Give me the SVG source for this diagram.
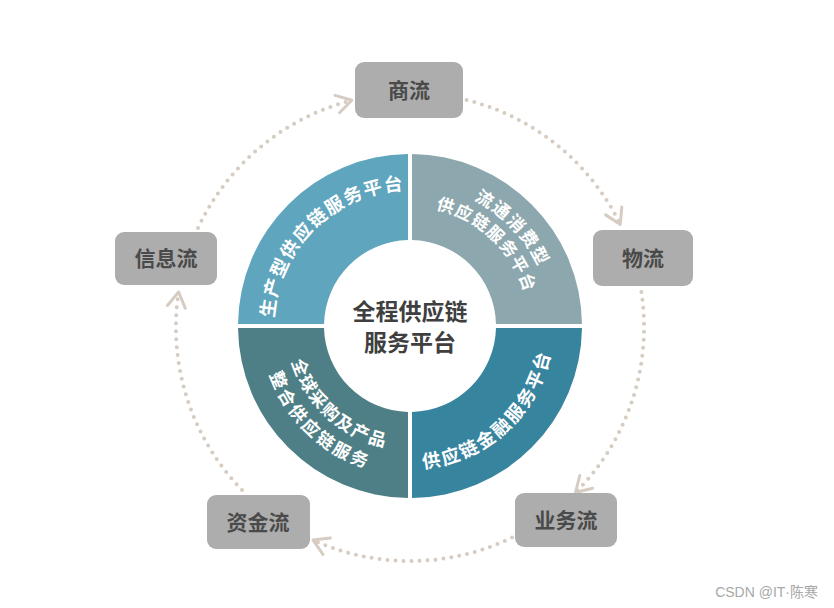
<svg xmlns="http://www.w3.org/2000/svg" xmlns:xlink="http://www.w3.org/1999/xlink" width="834" height="608" viewBox="0 0 834 608">
<style>
.box{fill:#adadad;}
.lbl{font-family:"Noto Sans CJK SC","Liberation Sans",sans-serif;font-weight:700;font-size:21px;fill:#4a4a4a;text-anchor:middle;}
.ctr{font-family:"Noto Sans CJK SC","Liberation Sans",sans-serif;font-weight:700;font-size:23px;fill:#3f3f3f;text-anchor:middle;}
.rt{font-family:"Noto Sans CJK SC","Liberation Sans",sans-serif;font-weight:700;fill:#ffffff;text-anchor:middle;}
.dot{fill:none;stroke:#d6ccc1;stroke-width:4;stroke-linecap:round;stroke-dasharray:0 8;marker-end:url(#chev);}
.wm{font-family:"Liberation Sans","Noto Sans CJK SC",sans-serif;font-size:14px;fill:#a8a8a8;text-anchor:end;}
</style>
<defs>
<marker id="chev" markerUnits="userSpaceOnUse" markerWidth="30" markerHeight="30" refX="0" refY="0" viewBox="-20 -15 30 30" orient="auto" overflow="visible">
<path d="M -15 -9 L 0 0 L -15 9" fill="none" stroke="#d6ccc1" stroke-width="3" stroke-linecap="round" stroke-linejoin="round"/>
</marker>
<path id="pTL" d="M 278.3 359.9 A 136 136 0 0 1 446.3 194.9"/>
<path id="pTRo" d="M 376.4 188.7 A 141.4 141.4 0 0 1 545.7 365.6"/>
<path id="pTRi" d="M 375.6 211.7 A 119.4 119.4 0 0 1 526.2 353.4"/>
<path id="pBR" d="M 366.6 462.3 A 143 143 0 0 0 549.7 295.4"/>
<path id="pBLi" d="M 289.2 299.6 A 123.6 123.6 0 0 0 447.5 443.8"/>
<path id="pBLo" d="M 265.6 290.8 A 148.6 148.6 0 0 0 451.7 468.6"/>
</defs>
<rect width="834" height="608" fill="#ffffff"/>

<g id="connectors">
<path class="dot" d="M 466.6 100 A 234 234 0 0 1 620.3 224.4"/>
<path class="dot" d="M 641.4 292 A 234 234 0 0 1 575.5 492.5"/>
<path class="dot" d="M 512 537.6 A 234 234 0 0 1 313 540"/>
<path class="dot" d="M 242 490 A 234 234 0 0 1 178.6 292"/>
<path class="dot" d="M 198 228 A 234 234 0 0 1 351.8 100.3"/>
</g>

<g id="ring-tl">
<path d="M 238.01 324 A 172 172 0 0 1 408 154.01 L 408 240.02 A 86 86 0 0 0 324.02 324 Z" fill="#5fa5be"/>
<text class="rt" font-size="18.5" letter-spacing="1.5"><textPath href="#pTL" startOffset="50%">生产型供应链服务平台</textPath></text>
</g>
<g id="ring-tr">
<path d="M 412 154.01 A 172 172 0 0 1 581.99 324 L 495.98 324 A 86 86 0 0 0 412 240.02 Z" fill="#8da7ae"/>
<text class="rt" font-size="17.5" letter-spacing="1.6"><textPath href="#pTRo" startOffset="50%">流通消费型</textPath></text>
<text class="rt" font-size="17" letter-spacing="1.3"><textPath href="#pTRi" startOffset="50%">供应链服务平台</textPath></text>
</g>
<g id="ring-br">
<path d="M 581.99 328 A 172 172 0 0 1 412 497.99 L 412 411.98 A 86 86 0 0 0 495.98 328 Z" fill="#37849f"/>
<text class="rt" font-size="18.5" letter-spacing="2"><textPath href="#pBR" startOffset="50%">供应链金融服务平台</textPath></text>
</g>
<g id="ring-bl">
<path d="M 408 497.99 A 172 172 0 0 1 238.01 328 L 324.02 328 A 86 86 0 0 0 408 411.98 Z" fill="#4f7f86"/>
<text class="rt" font-size="17.5" letter-spacing="1.6"><textPath href="#pBLi" startOffset="50%">全球采购及产品</textPath></text>
<text class="rt" font-size="17.5" letter-spacing="2.7"><textPath href="#pBLo" startOffset="50%">整合供应链服务</textPath></text>
</g>

<g id="center">
<text class="ctr" x="410" y="320">全程供应链</text>
<text class="ctr" x="410" y="351">服务平台</text>
</g>

<g id="node-shangliu">
<rect class="box" x="355" y="62" width="108" height="56" rx="9"/>
<text class="lbl" x="409" y="98">商流</text>
</g>
<g id="node-wuliu">
<rect class="box" x="593" y="230" width="100" height="56" rx="9"/>
<text class="lbl" x="643" y="266">物流</text>
</g>
<g id="node-yewuliu">
<rect class="box" x="515" y="493" width="102" height="54" rx="9"/>
<text class="lbl" x="566" y="528">业务流</text>
</g>
<g id="node-zijinliu">
<rect class="box" x="207" y="495" width="103" height="54" rx="9"/>
<text class="lbl" x="258" y="530">资金流</text>
</g>
<g id="node-xinxiliu">
<rect class="box" x="115" y="232" width="102" height="53" rx="9"/>
<text class="lbl" x="166" y="266">信息流</text>
</g>

<text class="wm" x="818" y="597">CSDN @IT·陈寒</text>
</svg>
